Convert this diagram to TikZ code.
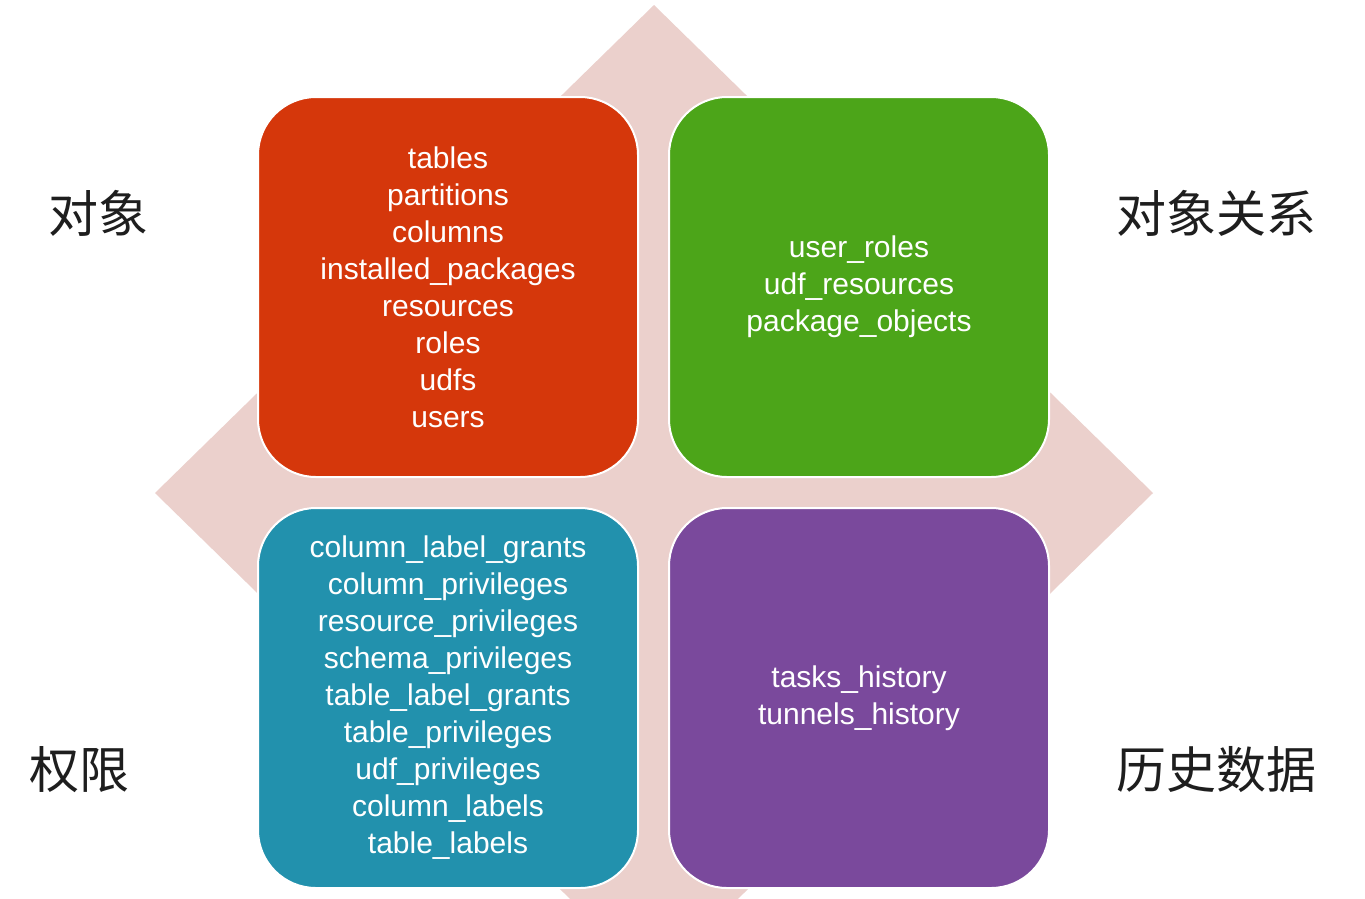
\documentclass[tikz,border=0pt]{standalone}
\usepackage{fontspec}
\setmainfont{Liberation Sans}
\newfontfamily\cjk{Noto Sans CJK SC}
\usepackage{xcolor}
\usepackage{tikz}
\usetikzlibrary{positioning}
\definecolor{objred}{HTML}{D5370B}
\definecolor{relgreen}{HTML}{4CA519}
\definecolor{privblue}{HTML}{2291AD}
\definecolor{histpurple}{HTML}{7A499C}
\definecolor{diamondpink}{HTML}{EBD0CC}
\definecolor{labelgray}{HTML}{1E1E1E}

\begin{document}
\begin{tikzpicture}[x=1pt, y=-1pt,
    box/.style={rectangle, rounded corners=58pt, draw=white, line width=2pt, minimum width=380pt, minimum height=380pt, text=white, align=center, font=\fontsize{30}{37}\selectfont},
    side/.style={text=labelgray, font=\cjk\fontsize{50}{56}\selectfont, inner sep=0pt}
]
    \clip (0,0) rectangle (1365,898);
    \fill[white] (0,0) rectangle (1365,898);
    % background diamond
    \fill[diamondpink] (654,5) -- (1153,493) -- (654,981) -- (155,493) -- cycle;

    \node[box, fill=objred] (objects) at (448,287) {tables\\partitions\\columns\\installed\_packages\\resources\\roles\\udfs\\users};
    \node[box, fill=relgreen] (relations) at (859,287) {user\_roles\\udf\_resources\\package\_objects};
    \node[box, fill=privblue] (privileges) at (448,698) {column\_label\_grants\\column\_privileges\\resource\_privileges\\schema\_privileges\\table\_label\_grants\\table\_privileges\\udf\_privileges\\column\_labels\\table\_labels};
    \node[box, fill=histpurple] (history) at (859,698) {tasks\_history\\tunnels\_history};

    \node[side] (objlabel) at (98,213) {对象};
    \node[side] (rellabel) at (1216,213) {对象关系};
    \node[side] (privlabel) at (79,770) {权限};
    \node[side] (histlabel) at (1216,770) {历史数据};
\end{tikzpicture}
\end{document}
